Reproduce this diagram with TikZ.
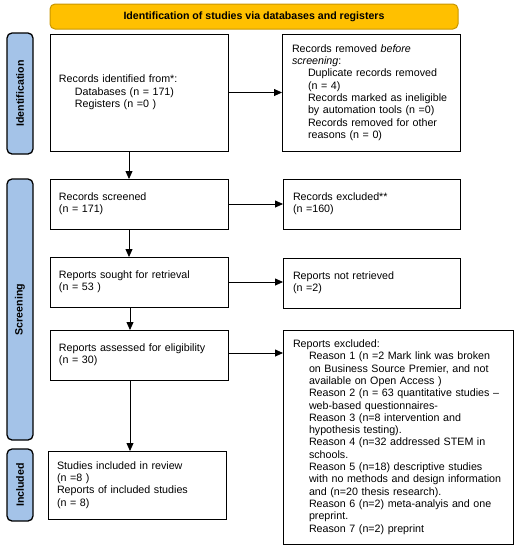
\documentclass[tikz,border=0pt]{standalone}
\usepackage{fontspec}
\setmainfont{Liberation Sans}
\usepackage{xcolor}
\usetikzlibrary{arrows.meta, positioning, calc}
\definecolor{headorange}{RGB}{255, 192, 0}
\definecolor{headedge}{RGB}{200, 150, 0}
\definecolor{tabblue}{RGB}{164, 195, 232}
\newcommand{\indentline}{\hspace*{16pt}}

\begin{document}
\begin{tikzpicture}[
    x=1pt, y=-1pt,
    head/.style={rectangle, draw=headedge, fill=headorange, rounded corners=5pt, line width=1pt,
                 minimum width=408pt, minimum height=25pt, font=\fontsize{10.6}{12}\selectfont\bfseries},
    phase/.style={rectangle, draw=black, fill=tabblue, rounded corners=5pt, line width=1.3pt,
                  minimum height=26pt, rotate=90, font=\fontsize{10.6}{12}\selectfont\bfseries},
    box/.style={rectangle, draw=black, line width=1pt, text width=160pt, inner xsep=9pt,
                inner ysep=3pt, minimum height=50pt, align=left, outer sep=0pt,
                font=\fontsize{10.7}{12.3}\selectfont},
    arrow/.style={-{Triangle[length=8pt, width=7pt]}, line width=0.8pt},
]
    \useasboundingbox (0,0) rectangle (519,550);

    \node[head] (header) at (254,16.5) {Identification of studies via databases and registers};

    % Phase tabs on the left
    \node[phase, minimum width=121pt] (tabid) at (20,93.5) {Identification};
    \node[phase, minimum width=261pt] (tabscr) at (20,309.5) {Screening};
    \node[phase, minimum width=72pt] (tabinc) at (20,485) {Included};

    % Left column
    \node[box, anchor=north west, minimum height=117pt] (ident) at (50,34)
        {Records identified from*:\\ \indentline Databases (n = 171)\\ \indentline Registers (n =0 )};
    \node[box, below=28pt of ident] (screened) {Records screened\\(n = 171)};
    \node[box, below=28pt of screened] (sought) {Reports sought for retrieval\\(n = 53 )};
    \node[box, below=23pt of sought] (assessed) {Reports assessed for eligibility\\(n = 30)};
    \node[box, below=71pt of assessed, xshift=-2pt, minimum height=68pt] (included)
        {Studies included in review\\(n =8 )\\Reports of included studies\\(n = 8)};

    % Right column
    \node[box, right=54pt of ident, minimum height=117pt, inner xsep=10pt, text width=158pt] (removed)
        {Records removed \textit{before}\\ \textit{screening}:\\
         \indentline Duplicate records removed\\ \indentline (n = 4)\\
         \indentline Records marked as ineligible\\ \indentline by automation tools (n =0)\\
         \indentline Records removed for other\\ \indentline reasons (n = 0)};
    \node[box, right=55pt of screened, inner xsep=10pt, text width=157pt] (excluded) {Records excluded**\\(n =160)};
    \node[box, right=55pt of sought, inner xsep=10pt, text width=157pt, yshift=-1pt] (notretr) {Reports not retrieved\\(n =2)};
    \node[box, right=55pt of assessed.north east, anchor=north west, inner xsep=10pt, text width=210pt,
          minimum height=214pt] (reasons)
        {Reports excluded:\\
         \indentline Reason 1 (n =2 Mark link was broken\\
         \indentline on Business Source Premier, and not\\
         \indentline available on Open Access )\\
         \indentline Reason 2 (n = 63 quantitative studies –\\
         \indentline web-based questionnaires-\\
         \indentline Reason 3 (n=8 intervention and\\
         \indentline hypothesis testing).\\
         \indentline Reason 4 (n=32 addressed STEM in\\
         \indentline schools.\\
         \indentline Reason 5 (n=18) descriptive studies\\
         \indentline with no methods and design information\\
         \indentline and (n=20 thesis research).\\
         \indentline Reason 6 (n=2) meta-analyis and one\\
         \indentline preprint.\\
         \indentline Reason 7 (n=2) preprint};

    % Arrows
    \draw[arrow] (ident) -- (removed);
    \draw[arrow] (screened) -- (screened -| excluded.west);
    \draw[arrow] (sought) -- (sought -| notretr.west);
    \draw[arrow] ([yshift=2pt]assessed.east) -- ([yshift=2pt]assessed.east -| reasons.west);

    \draw[arrow] ([xshift=-10pt]ident.south) -- ([xshift=-10pt]screened.north);
    \draw[arrow] ([xshift=-10pt]screened.south) -- ([xshift=-10pt]sought.north);
    \draw[arrow] ([xshift=-9pt]sought.south) -- ([xshift=-9pt]assessed.north);
    \draw[arrow] ([xshift=-9pt]assessed.south) -- ([xshift=-9pt]assessed.south |- included.north);
\end{tikzpicture}
\end{document}
